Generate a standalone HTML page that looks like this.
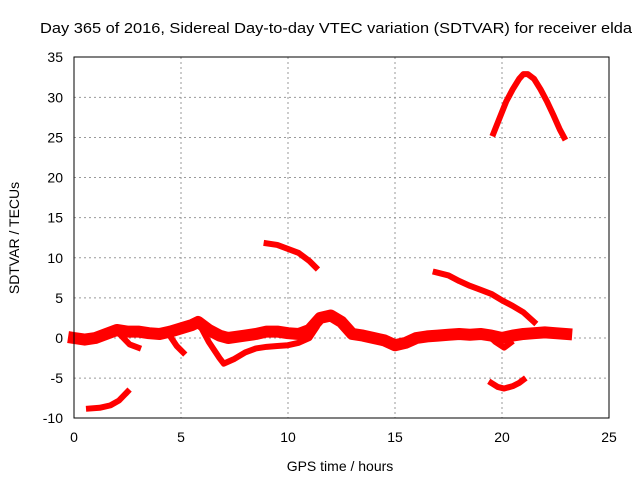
<!DOCTYPE html>
<html><head><meta charset="utf-8"><style>
html,body{margin:0;padding:0;background:#fff;}
svg{display:block;font-family:"Liberation Sans",sans-serif;}
</style></head><body>
<svg id="chart" width="640" height="480" viewBox="0 0 640 480" xmlns="http://www.w3.org/2000/svg">
<text x="40" y="33" font-size="15" textLength="592" lengthAdjust="spacingAndGlyphs" fill="#000">Day 365 of 2016, Sidereal Day-to-day VTEC variation (SDTVAR) for receiver elda</text>
<g id="grid"></g>
<g id="series"></g>
<rect x="74" y="57" width="535" height="361" fill="none" stroke="#000" stroke-width="1"/>
<g id="ticks"></g>
<text x="340" y="471" font-size="14" text-anchor="middle">GPS time / hours</text>
<text transform="translate(19,238) rotate(-90)" font-size="14" text-anchor="middle">SDTVAR / TECUs</text>
</svg>
<script>
const xTicks=[0,5,10,15,20,25];
const yTicks=[-10,-5,0,5,10,15,20,25,30,35];
const mainX=[0,0.5,1,1.5,2,2.5,3,3.5,4,4.5,5,5.5,5.8,6.3,6.8,7.2,8,8.5,9,9.5,10,10.5,11,11.5,12,12.5,13,13.5,14,14.5,15,15.5,16,16.5,17,17.5,18,18.5,19,19.5,20,20.5,21,21.5,22,22.5,23];
const mainY=[0,-0.2,0,0.5,1,0.8,0.8,0.6,0.5,0.8,1.2,1.6,2.0,1.0,0.3,0,0.3,0.5,0.8,0.8,0.6,0.5,1.0,2.5,2.8,2.0,0.5,0.3,0,-0.3,-0.9,-0.6,0,0.2,0.3,0.4,0.5,0.4,0.5,0.3,0,0.3,0.5,0.6,0.7,0.6,0.5];
const lowX=[5.8,6.3,6.8,7.0,7.5,8,8.5,9,9.5,10,10.5,11,11.3];
const lowY=[2.0,-0.5,-2.5,-3.2,-2.6,-1.8,-1.3,-1.1,-1.0,-0.9,-0.6,0,1.2];
const dropX=[4.5,4.8,5.1];
const dropY=[0.2,-1.0,-1.8];
const dropBX=[2.2,2.6,3.0];
const dropBY=[0.3,-0.8,-1.2];
const a2X=[0.7,1.2,1.7,2.1,2.5];
const a2Y=[-8.8,-8.7,-8.4,-7.8,-6.7];
const a3X=[9,9.5,10,10.5,11,11.3];
const a3Y=[11.8,11.6,11.1,10.6,9.6,8.8];
const a4X=[16.9,17.5,18,18.5,19,19.5,20,20.5,21,21.5];
const a4Y=[8.2,7.8,7.1,6.5,6.0,5.5,4.7,4.0,3.2,2.0];
const a5X=[19.6,19.9,20.2,20.5,20.8,21,21.2,21.5,21.8,22.1,22.4,22.7,22.9];
const a5Y=[25.5,27.5,29.5,31,32.3,32.9,32.9,32.3,31,29.5,27.8,26,25];
const a6X=[19.5,19.8,20.1,20.5,20.8,21];
const a6Y=[-5.6,-6.1,-6.3,-6.0,-5.6,-5.2];
const a7X=[19.3,19.7,20.1,20.4];
const a7Y=[0.5,-0.5,-1.2,-0.6];
const X=v=>74+v*21.4, Y=v=>338-v*8.022;
const NS="http://www.w3.org/2000/svg";
const grid=document.getElementById('grid'),ticks=document.getElementById('ticks'),ser=document.getElementById('series');
function mk(t,a){const e=document.createElementNS(NS,t);for(const k in a)e.setAttribute(k,a[k]);return e;}
xTicks.forEach(v=>{
 if(v>0&&v<25){const g=mk('line',{x1:X(v),x2:X(v),y1:57,y2:418,stroke:'#999','stroke-dasharray':'2,3'});
 
 grid.appendChild(g);}
 const t=mk('text',{x:X(v),y:442,'font-size':14,'text-anchor':'middle'});t.textContent=v;
 
 ticks.appendChild(t);
});
yTicks.forEach(v=>{
 if(v>-10&&v<35){const g=mk('line',{x1:74,x2:609,y1:Y(v),y2:Y(v),stroke:'#999','stroke-dasharray':'2,3'});
 
 grid.appendChild(g);}
 const t=mk('text',{x:63,y:Y(v)+5,'font-size':14,'text-anchor':'end'});t.textContent=v;
 
 ticks.appendChild(t);
});
function draw(xs,ys,w,name){
 const p=mk('polyline',{points:xs.map((x,i)=>X(x)+','+Y(ys[i])).join(' '),fill:'none',stroke:'#ff0000','stroke-width':w,'stroke-linejoin':'round','stroke-linecap':'square'});
 
 
 ser.appendChild(p);
}
draw(mainX,mainY,12,'series-main-band');
draw(lowX,lowY,6,'series-lower-branch');
draw(dropX,dropY,6,'series-drop-a');
draw(dropBX,dropBY,6,'series-drop-b');
draw(a2X,a2Y,6,'series-arc-low');
draw(a3X,a3Y,6,'series-arc-10');
draw(a4X,a4Y,6,'series-arc-decline');
draw(a5X,a5Y,6,'series-arc-peak');
draw(a6X,a6Y,6,'series-arc-minus6');
draw(a7X,a7Y,6,'series-dip-20');
</script>
</body></html>
